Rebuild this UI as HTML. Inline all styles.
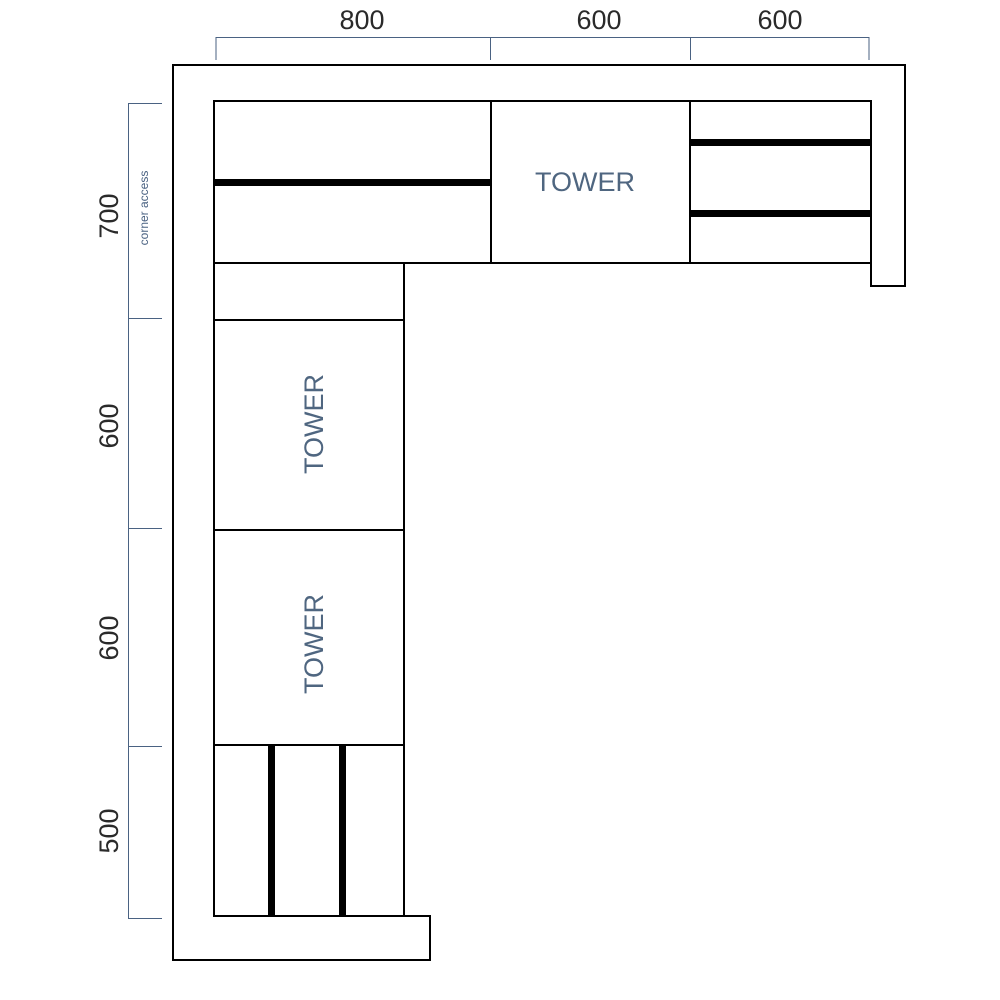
<!DOCTYPE html>
<html><head><meta charset="utf-8"><style>html,body{margin:0;padding:0;background:#fff}svg{display:block}</style></head>
<body>
<svg width="1000" height="1000" viewBox="0 0 1000 1000" xmlns="http://www.w3.org/2000/svg">
<g fill="none" stroke="#4a6282" stroke-width="1">
<path d="M216,60 V37.5 H869 V60 M490.5,37.5 V60 M690.5,37.5 V60"/>
<path d="M162,103.5 H128.5 V918.5 H162 M128.5,318.5 H162 M128.5,528.5 H162 M128.5,746.5 H162"/>
</g>
<g font-family="'Liberation Sans',sans-serif" fill="#2a2a2a" font-size="27" text-anchor="middle">
<text x="362" y="29">800</text>
<text x="599" y="29">600</text>
<text x="780" y="29">600</text>
<text transform="translate(118,216) rotate(-90)">700</text>
<text transform="translate(118,426) rotate(-90)">600</text>
<text transform="translate(118,638) rotate(-90)">600</text>
<text transform="translate(118,831) rotate(-90)">500</text>
</g>
<text transform="translate(148,208) rotate(-90)" font-family="'Liberation Sans',sans-serif" font-size="12" fill="#4a6282" text-anchor="middle">corner access</text>
<g fill="none" stroke="#000" stroke-width="2">
<path d="M871,263 V286 H905 V65 H173 V960 H430 V916 H404"/>
<rect x="214" y="101" width="657" height="162"/>
<path d="M491,101 V263 M690,101 V263"/>
<path d="M214,263 V916 H404 V263 M214,320 H404 M214,530 H404 M214,745 H404"/>
</g>
<g stroke="#000" stroke-width="7">
<path d="M214,182.5 H491 M690,142.5 H871 M690,213.5 H871 M271.5,745 V916 M342.5,745 V916"/>
</g>
<g font-family="'Liberation Sans',sans-serif" fill="#4f6680" font-size="27" text-anchor="middle">
<text x="585" y="191">TOWER</text>
<text transform="translate(323,424) rotate(-90)">TOWER</text>
<text transform="translate(323,644) rotate(-90)">TOWER</text>
</g>
</svg>
</body></html>
